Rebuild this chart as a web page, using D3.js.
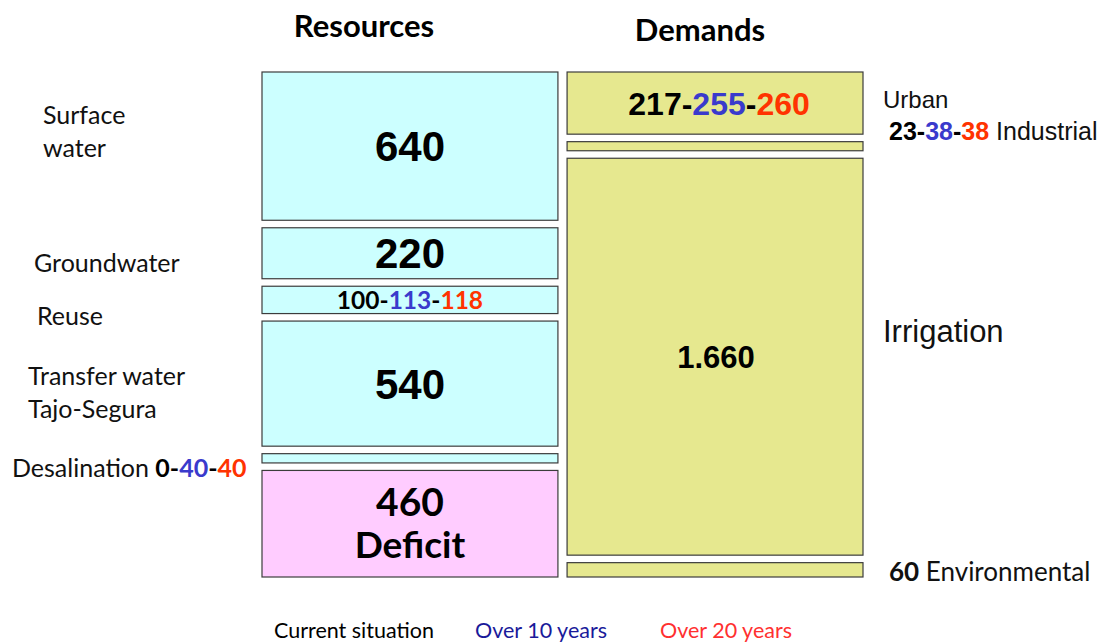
<!DOCTYPE html>
<html>
<head>
<meta charset="utf-8">
<script src="https://cdn.jsdelivr.net/npm/d3@7"></script>
<style>
  body { margin: 0; background: #fff; }
  .calib { font-family: Lato, "Open Sans", sans-serif; }
  .arial { font-family: "Liberation Sans", Arial, sans-serif; }
</style>
</head>
<body>
<div id="chart-area"></div>
<script>
// canvas size
const svgWidth = 1099,
      svgHeight = 642;

// data: three scenarios (current, over 10 years, over 20 years)
const resourceNames = ["Surface water", "Groundwater", "Reuse", "Transfer water Tajo-Segura", "Desalination", "Deficit"];
const resourceNow   = [640, 220, 100, 540, 0, 460];
const resource10y   = [640, 220, 113, 540, 40, 460];
const resource20y   = [640, 220, 118, 540, 40, 460];

const demandNames = ["Urban", "Industrial", "Irrigation", "Environmental"];
const demandNow   = [217, 23, 1660, 60];
const demand10y   = [255, 38, 1660, 60];
const demand20y   = [260, 38, 1660, 60];

const scenarioLabels = ["Current situation", "Over 10 years", "Over 20 years"];
const scenarioColors = ["#000000", "#3a3acc", "#ff3300"];
const legendColors = ["#000000", "#1a1a9a", "#ff3030"];

const colTop = 72, colBottom = 577, gap = 7.5;
const colX = d3.scaleBand().domain(["Resources", "Demands"]).range([262, 863]).paddingInner(0.03);

var svg = d3.select("#chart-area").append("svg")
    .attr("width", svgWidth)
    .attr("height", svgHeight);

// headers
svg.append("text").attr("class", "calib").attr("x", 364).attr("y", 37)
    .attr("text-anchor", "middle").attr("font-size", "31px").attr("font-weight", "bold").text("Resources");
svg.append("text").attr("class", "calib").attr("x", 700).attr("y", 41)
    .attr("text-anchor", "middle").attr("font-size", "31px").attr("font-weight", "bold").text("Demands");

// build a stacked column, using the largest scenario for the box sizes
function stackColumn(values){
    var total = d3.sum(values);
    var y = d3.scaleLinear().domain([0, total])
        .range([0, colBottom - colTop - gap*(values.length-1)]);
    var out = [], acc = 0;
    values.forEach(function(v, i){
        out.push({ i: i, y0: colTop + y(acc) + gap*i, h: y(v) });
        acc += v;
    });
    return out;
}

var resBoxes = stackColumn(resource20y);
var demBoxes = stackColumn(demand20y);

var resFill = function(i){ return resourceNames[i] == "Deficit" ? "#ffccff" : "#ccffff"; };

svg.selectAll(".res-box").data(resBoxes).enter().append("rect")
    .attr("class", "res-box")
    .attr("x", colX("Resources")).attr("width", colX.bandwidth())
    .attr("y", function(d){ return d.y0; })
    .attr("height", function(d){ return d.h; })
    .attr("fill", function(d){ return resFill(d.i); })
    .attr("stroke", "#3c3c3c").attr("stroke-width", 1.2);

svg.selectAll(".dem-box").data(demBoxes).enter().append("rect")
    .attr("class", "dem-box")
    .attr("x", colX("Demands")).attr("width", colX.bandwidth())
    .attr("y", function(d){ return d.y0; })
    .attr("height", function(d){ return d.h; })
    .attr("fill", "#e6e88f")
    .attr("stroke", "#3c3c3c").attr("stroke-width", 1.2);

// helper: write "a-b-c" in scenario colours
function triple(sel, vals){
    vals.forEach(function(v, k){
        if (k > 0) sel.append("tspan").attr("fill", "#000").text("-");
        sel.append("tspan").attr("fill", scenarioColors[k]).text(v);
    });
}
function mid(b){ return b.y0 + b.h/2; }

var resCx = colX("Resources") + colX.bandwidth()/2;
var demCx = colX("Demands") + colX.bandwidth()/2;

// values inside resource boxes
[0, 1, 3].forEach(function(i){
    svg.append("text").attr("class", "arial")
        .attr("x", resCx).attr("y", mid(resBoxes[i])).attr("dy", "0.36em")
        .attr("text-anchor", "middle").attr("font-size", "42px").attr("font-weight", "bold")
        .text(resourceNow[i]);
});
var reuseT = svg.append("text").attr("class", "calib")
    .attr("x", resCx).attr("y", mid(resBoxes[2])).attr("dy", "0.36em")
    .attr("text-anchor", "middle").attr("font-size", "24.5px").attr("font-weight", "bold");
triple(reuseT, [resourceNow[2], resource10y[2], resource20y[2]]);

svg.append("text").attr("class", "calib")
    .attr("x", resCx).attr("y", mid(resBoxes[5]) - 8)
    .attr("text-anchor", "middle").attr("font-size", "39px").attr("font-weight", "bold")
    .text(resourceNow[5]);
svg.append("text").attr("class", "calib")
    .attr("x", resCx).attr("y", mid(resBoxes[5]) + 34)
    .attr("text-anchor", "middle").attr("font-size", "37px").attr("font-weight", "bold")
    .text("Deficit");

// values inside demand boxes
var urbT = svg.append("text").attr("class", "arial")
    .attr("x", demCx + 4).attr("y", mid(demBoxes[0])).attr("dy", "0.36em")
    .attr("text-anchor", "middle").attr("font-size", "32px").attr("font-weight", "bold");
triple(urbT, [demandNow[0], demand10y[0], demand20y[0]]);

svg.append("text").attr("class", "arial")
    .attr("x", demCx + 1).attr("y", mid(demBoxes[2])).attr("dy", "0.36em")
    .attr("text-anchor", "middle").attr("font-size", "31px").attr("font-weight", "bold")
    .text(d3.format(",")(demandNow[2]).replace(",", "."));

// left labels
var leftLabels = [
    { lines: ["Surface", "water"], x: 43, y: 124 },
    { lines: ["Groundwater"], x: 34, y: 272 },
    { lines: ["Reuse"], x: 37, y: 325 },
    { lines: ["Transfer water", "Tajo-Segura"], x: 28, y: 385 }
];
leftLabels.forEach(function(l){
    l.lines.forEach(function(s, k){
        svg.append("text").attr("class", "calib")
            .attr("x", l.x).attr("y", l.y + k*33)
            .attr("font-size", "25px").attr("fill", "#111").text(s);
    });
});
var desT = svg.append("text").attr("class", "calib")
    .attr("x", 12).attr("y", 477).attr("font-size", "25px").attr("fill", "#111");
desT.append("tspan").text("Desalination ");
var desNums = desT.append("tspan").attr("font-weight", "bold").attr("font-size", "25px");
triple(desNums, [resourceNow[4], resource10y[4], resource20y[4]]);

// right labels
svg.append("text").attr("class", "arial").attr("x", 883).attr("y", 108)
    .attr("font-size", "24px").attr("fill", "#111").text("Urban");
var indT = svg.append("text").attr("class", "arial").attr("x", 889).attr("y", 140)
    .attr("font-size", "25px").attr("fill", "#111");
var indN = indT.append("tspan").attr("font-weight", "bold");
triple(indN, [demandNow[1], demand10y[1], demand20y[1]]);
indT.append("tspan").text(" Industrial");

svg.append("text").attr("class", "arial").attr("x", 883).attr("y", 342)
    .attr("font-size", "31px").attr("fill", "#111").text("Irrigation");

var envT = svg.append("text").attr("class", "calib").attr("x", 889).attr("y", 581)
    .attr("font-size", "26px").attr("fill", "#111");
envT.append("tspan").attr("font-weight", "bold").text(demandNow[3]);
envT.append("tspan").text(" Environmental");

// legend
var legX = [274, 475, 660];
scenarioLabels.forEach(function(s, k){
    svg.append("text").attr("class", "calib").attr("x", legX[k]).attr("y", 638)
        .attr("font-size", "21.5px").attr("fill", legendColors[k]).text(s);
});
</script>
</body>
</html>
